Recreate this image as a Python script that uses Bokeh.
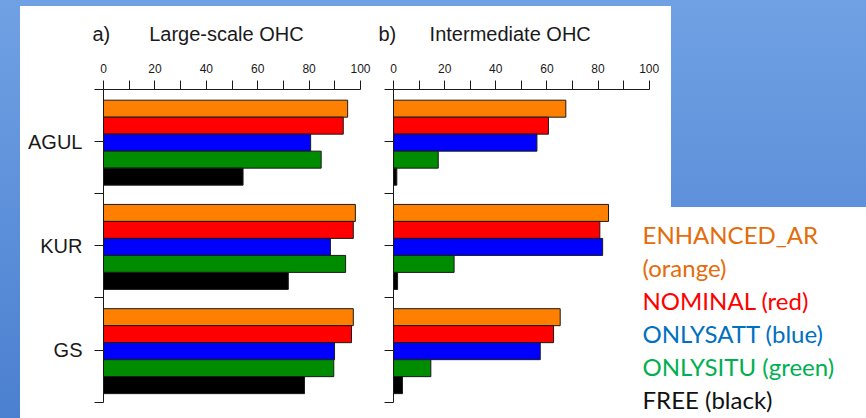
from bokeh.plotting import figure
from bokeh.layouts import row
from bokeh.models import Range1d, FixedTicker, Label, Title
from bokeh.embed import file_html
from bokeh.resources import INLINE

# ---------------- data ----------------
groups = ["AGUL", "KUR", "GS"]
series = ["ENHANCED_AR", "NOMINAL", "ONLYSATT", "ONLYSITU", "FREE"]
bar_colors = ["#FF8000", "#FF0000", "#0000FF", "#008C00", "#000000"]
x_ticks = [0, 20, 40, 60, 80, 100]
x_minor_ticks = [10, 30, 50, 70, 90]

# a) Large-scale OHC  (values per group: AGUL, KUR, GS)
large_enhanced = [95.0, 98.0, 97.2]
large_nominal = [93.3, 97.2, 96.5]
large_onlysatt = [80.6, 88.3, 89.9]
large_onlysitu = [84.7, 94.2, 89.6]
large_free = [54.3, 71.9, 78.2]

# b) Intermediate OHC
inter_enhanced = [67.4, 84.1, 65.2]
inter_nominal = [60.6, 80.7, 62.6]
inter_onlysatt = [56.1, 81.8, 57.4]
inter_onlysitu = [17.5, 23.7, 14.6]
inter_free = [1.3, 1.6, 3.5]

legend_lines = ["ENHANCED_AR", "(orange)", "NOMINAL (red)", "ONLYSATT (blue)",
                "ONLYSITU (green)", "FREE (black)"]
legend_colors = ["#E46C0A", "#E46C0A", "#FF0000", "#0070C0", "#00B050", "#111111"]

# ---------------- styling ----------------
FONT = "Liberation Sans"
BAR_H = 0.163
H = 418
NB = "\u00a0"


def make_panel(width, border_left, border_right, x_end, values, title_text,
               title_offset, show_group_labels):
    p = figure(width=width, height=H,
               x_range=Range1d(0, x_end), y_range=Range1d(-0.156, 3),
               x_axis_location="above", y_axis_location="left",
               output_backend="svg", toolbar_location=None,
               min_border_left=border_left, min_border_right=border_right,
               min_border_top=89, min_border_bottom=0,
               background_fill_color=None, border_fill_color=None,
               outline_line_color=None)
    p.grid.visible = False

    n = len(groups)
    for j, (name, vals, col) in enumerate(zip(series, values, bar_colors)):
        ys = [n - 1 - i + 0.49 + (2 - j) * BAR_H for i in range(n)]
        p.hbar(y=ys, left=0, right=vals, height=BAR_H,
               fill_color=col, line_color="#1a1a1a", line_width=1)

    xa = p.xaxis[0]
    xa.ticker = FixedTicker(ticks=x_ticks, minor_ticks=x_minor_ticks)
    xa.bounds = (0, 100)
    xa.major_tick_out = 9
    xa.major_tick_in = 0
    xa.minor_tick_out = 9
    xa.minor_tick_in = 0
    xa.major_label_standoff = 8
    xa.major_label_text_font = FONT
    xa.major_label_text_font_size = "12px"
    xa.major_label_text_color = "#1a1a1a"
    xa.axis_line_color = "#1a1a1a"
    xa.major_tick_line_color = "#1a1a1a"
    xa.minor_tick_line_color = "#1a1a1a"

    ya = p.yaxis[0]
    ya.ticker = FixedTicker(ticks=[n - 1 - i + 0.5 for i in range(n)],
                            minor_ticks=list(range(n + 1)))
    ya.bounds = (0, n)
    ya.major_tick_out = 9
    ya.major_tick_in = 0
    ya.minor_tick_out = 9
    ya.minor_tick_in = 0
    ya.axis_line_color = "#1a1a1a"
    ya.major_tick_line_color = "#1a1a1a"
    ya.minor_tick_line_color = "#1a1a1a"
    ya.major_label_text_font = FONT
    ya.major_label_text_color = "#1a1a1a"
    if show_group_labels:
        ya.major_label_overrides = {n - 1 - i + 0.5: g for i, g in enumerate(groups)}
        ya.major_label_text_font_size = "20px"
        ya.major_label_standoff = 12
    else:
        ya.major_label_overrides = {n - 1 - i + 0.5: "" for i in range(n)}
        ya.major_label_text_font_size = "0px"
        ya.major_label_standoff = 0

    p.add_layout(Title(text=title_text, align="left", offset=title_offset,
                       standoff=32, text_font=FONT, text_font_size="20px",
                       text_font_style="normal", text_color="#1a1a1a"), "above")
    return p


pa = make_panel(372, 103, 12, 100,
                [large_enhanced, large_nominal, large_onlysatt, large_onlysitu, large_free],
                "a)" + NB * 7 + "Large-scale OHC", -11, True)

pb = make_panel(494, 21, 0, 185,
                [inter_enhanced, inter_nominal, inter_onlysatt, inter_onlysitu, inter_free],
                "b)" + NB * 6 + "Intermediate OHC", -15, False)

legend_top = 1.606
legend_step = 0.316
for k, (txt, col) in enumerate(zip(legend_lines, legend_colors)):
    pb.add_layout(Label(x=97.4, y=legend_top - k * legend_step, text=txt,
                        text_font="Lato", text_font_size="24px", text_color=col,
                        text_baseline="alphabetic", text_align="left"))

bg = ("linear-gradient(#ffffff,#ffffff) 20px 6px / 651px 412px no-repeat, "
      "linear-gradient(#ffffff,#ffffff) 20px 207px / 846px 211px no-repeat, "
      "linear-gradient(180deg, #70a1e4 0%, #4b80d0 100%)")

layout = row(pa, pb, width=866, height=H, styles={"background": bg})

open("out.html", "w").write(file_html(layout, INLINE))
